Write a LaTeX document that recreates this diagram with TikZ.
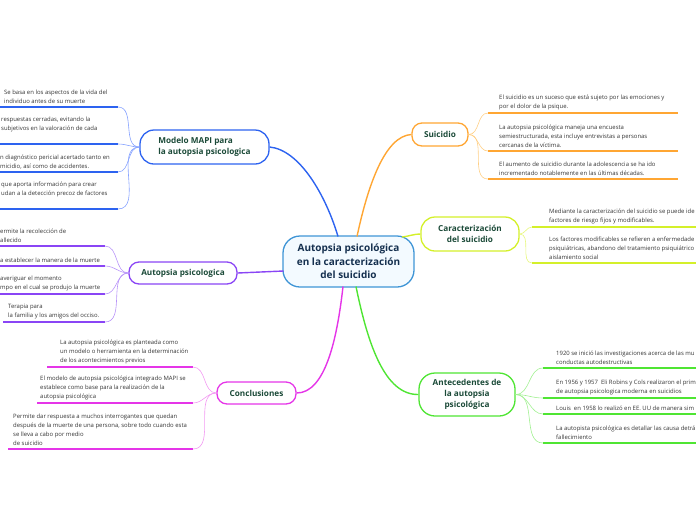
\documentclass[tikz,border=0pt]{standalone}
\usepackage{fontspec}
\setmainfont{Open Sans}
\definecolor{ccentral}{HTML}{3F95D6}
\definecolor{cfill}{HTML}{F3FAFF}
\definecolor{ctxt}{HTML}{15304F}
\definecolor{ntxt}{HTML}{1B4A38}
\definecolor{ltxt}{HTML}{333333}
\definecolor{cblue}{HTML}{2D63F0}
\definecolor{tblue}{HTML}{86A2FF}
\definecolor{cpurple}{HTML}{8A45F5}
\definecolor{tpurple}{HTML}{B894F8}
\definecolor{cmag}{HTML}{E535E8}
\definecolor{tmag}{HTML}{F29AF2}
\definecolor{corange}{HTML}{FFA633}
\definecolor{torange}{HTML}{FFCF85}
\definecolor{cyellow}{HTML}{D4F02A}
\definecolor{tyellow}{HTML}{E6F77A}
\definecolor{cgreen}{HTML}{4FE533}
\definecolor{tgreen}{HTML}{A2F092}
\tikzset{
  topic/.style={draw, line width=1.3pt, fill=white, inner sep=0pt, align=center,
    text=ntxt, font=\bfseries\fontsize{8.2}{10.7}\selectfont},
  leaf/.style={inner sep=0pt, anchor=south west, align=left, text=ltxt,
    font=\fontsize{5.95}{9}\selectfont},
  bar/.style={line width=1.8pt},
  twig/.style={line width=0.6pt},
  mainline/.style={line width=1.4pt}
}
\begin{document}
\begin{tikzpicture}[x=1pt,y=-1pt]
\useasboundingbox (0,0) rectangle (696,520);
\clip (0,0) rectangle (696,520);

% ---------- topic nodes ----------
\node[topic, draw=ccentral, fill=cfill, text=ctxt, minimum width=131pt, minimum height=51pt,
  rounded corners=17pt, font=\bfseries\fontsize{10}{13.5}\selectfont] (central) at (348.5,261.5)
  {Autopsia psicológica\\en la caracterización\\del suicidio};
\node[topic, draw=cblue, minimum width=129pt, minimum height=34pt, rounded corners=14pt, align=left]
  (mapi) at (204.5,147) {Modelo MAPI para\\la autopsia psicologica};
\node[topic, draw=cpurple, minimum width=108pt, minimum height=22pt, rounded corners=10pt]
  (autop) at (183,273) {Autopsia psicologica};
\node[topic, draw=cmag, minimum width=79pt, minimum height=22pt, rounded corners=10pt]
  (concl) at (256.5,393) {Conclusiones};
\node[topic, draw=corange, minimum width=56pt, minimum height=23pt, rounded corners=10pt]
  (suic) at (440,134.5) {Suicidio};
\node[topic, draw=cyellow, minimum width=98pt, minimum height=34pt, rounded corners=14pt]
  (carac) at (470,234) {Caracterización\\del suicidio};
\node[topic, draw=cgreen, minimum width=96pt, minimum height=43pt, rounded corners=16pt]
  (antec) at (467,394.5) {Antecedentes de\\la autopsia\\psicológica};

% ---------- main connectors ----------
\coordinate (cmapi) at (338,236.5);
\coordinate (csuic) at (357,236.5);
\coordinate (ccarac) at (402,237);
\coordinate (cautop) at (283.5,271);
\coordinate (cconcl) at (343,286.5);
\coordinate (cantec) at (356,286.5);
\draw[mainline, cblue] (mapi.east) .. controls (300,150) and (326,196) .. (cmapi);
\draw[mainline, corange] (csuic) .. controls (368,185) and (385,136) .. (suic.west);
\draw[mainline, cyellow] (ccarac) .. controls (410,236) and (414,234) .. (carac.west);
\draw[mainline, cpurple] (cautop) -- (autop.east);
\draw[mainline, cmag] (cconcl) .. controls (337,340) and (325,393) .. (concl.east);
\draw[mainline, cgreen] (cantec) .. controls (368,345) and (385,395) .. (antec.west);

% ---------- Modelo MAPI leaves ----------
\coordinate (m1) at (118,107);
\coordinate (m2) at (118,144);
\coordinate (m3) at (118,172);
\coordinate (m4) at (118,209);
\foreach \c in {m1,m2,m3,m4}{
  \draw[bar, cblue] (\c) -- ++(-125,0);
  \draw[twig, tblue] (mapi.west) to[out=180,in=0] (\c);
}
\node[leaf] (tm1) at (4,104) {Se basa en los aspectos de la vida del\\individuo antes de su muerte};
\node[leaf] (tm2) at (1,132) {respuestas cerradas, evitando la\\subjetivos en la valoración de cada};
\node[leaf] (tm3) at (0,169) {n diagnóstico pericial acertado tanto en\\micidio, así como de accidentes.};
\node[leaf] (tm4) at (1,197) {que aporta información para crear\\udan a la detección precoz de factores};

% ---------- Autopsia psicologica leaves ----------
\coordinate (a1) at (105,246);
\coordinate (a2) at (105,266);
\coordinate (a3) at (105,294);
\coordinate (a4) at (105,322);
\foreach \c in {a1,a2,a3}{
  \draw[bar, cpurple] (\c) -- ++(-110,0);
}
\draw[bar, cpurple] (a4) -- ++(-102,0);
\foreach \c in {a1,a2,a3,a4}{
  \draw[twig, tpurple] (autop.west) to[out=180,in=0] (\c);
}
\node[leaf] (ta1) at (0,243) {ermite la recolección de\\allecido};
\node[leaf] (ta2) at (0,263) {a establecer la manera de la muerte};
\node[leaf] (ta3) at (0,291) {averiguar el momento\\mpo en el cual se produjo la muerte};
\node[leaf] (ta4) at (8,319) {Terapia para\\la familia y los amigos del occiso.};

% ---------- Conclusiones leaves ----------
\coordinate (k1) at (193,367);
\coordinate (k2) at (193,403);
\coordinate (k3) at (193,449);
\draw[bar, cmag] (k1) -- ++(-146,0);
\draw[bar, cmag] (k2) -- ++(-156,0);
\draw[bar, cmag] (k3) -- ++(-185,0);
\foreach \c in {k1,k2,k3}{
  \draw[twig, tmag] (concl.west) to[out=180,in=0] (\c);
}
\node[leaf] (tk1) at (60,364) {La autopsia psicológica es planteada como\\un modelo o herramienta en la determinación\\de los acontecimientos previos};
\node[leaf] (tk2) at (40,400) {El modelo de autopsia psicológica integrado MAPI se\\establece como base para la realización de la\\autopsia psicológica};
\node[leaf] (tk3) at (13,446) {Permite dar respuesta a muchos interrogantes que quedan\\después de la muerte de una persona, sobre todo cuando esta\\se lleva a cabo por medio\\de suicidio};

% ---------- Suicidio leaves ----------
\coordinate (s1) at (488,113);
\coordinate (s2) at (488,151);
\coordinate (s3) at (488,179);
\foreach \c in {s1,s2,s3}{
  \draw[bar, corange] (\c) -- ++(190,0);
  \draw[twig, torange] (suic.east) to[out=0,in=180] (\c);
}
\node[leaf] (ts1) at (499,110) {El suicidio es un suceso que está sujeto por las emociones y\\por el dolor de la psique.};
\node[leaf] (ts2) at (499,148) {La autopsia psicológica maneja una encuesta\\semiestructurada, esta incluye entrevistas a personas\\cercanas de la víctima.};
\node[leaf] (ts3) at (499,176) {El aumento de suicidio durante la adolescencia se ha ido\\incrementado notablemente en las últimas décadas.};

% ---------- Caracterizacion leaves ----------
\coordinate (y1) at (532,227);
\coordinate (y2) at (532,263);
\foreach \c in {y1,y2}{
  \draw[bar, cyellow] (\c) -- ++(180,0);
  \draw[twig, tyellow] (carac.east) to[out=0,in=180] (\c);
}
\node[leaf] (ty1) at (549,224) {Mediante la caracterización del suicidio se puede ide\\factores de riesgo fijos y modificables.};
\node[leaf] (ty2) at (549,260) {Los factores modificables se refieren a enfermedade\\psiquiátricas, abandono del tratamiento psiquiátrico\\aislamiento social};

% ---------- Antecedentes leaves ----------
\coordinate (g1) at (543,368);
\coordinate (g2) at (543,398);
\coordinate (g3) at (543,414);
\coordinate (g4) at (543,443);
\foreach \c in {g1,g2,g3,g4}{
  \draw[bar, cgreen] (\c) -- ++(170,0);
  \draw[twig, tgreen] (antec.east) to[out=0,in=180] (\c);
}
\node[leaf] (tg1) at (556,365) {1920 se inició las investigaciones acerca de las mu\\conductas autodestructivas};
\node[leaf] (tg2) at (556,395) {En 1956 y 1957\ \ Eli Robins y Cols realizaron el prim\\de autopsia psicologica moderna en suicidios};
\node[leaf] (tg3) at (556,411) {Louis\ \ en 1958 lo realizó en EE. UU de manera sim};
\node[leaf] (tg4) at (556,440) {La autopista psicológica es detallar las causa detrá\\fallecimiento};
\end{tikzpicture}
\end{document}
